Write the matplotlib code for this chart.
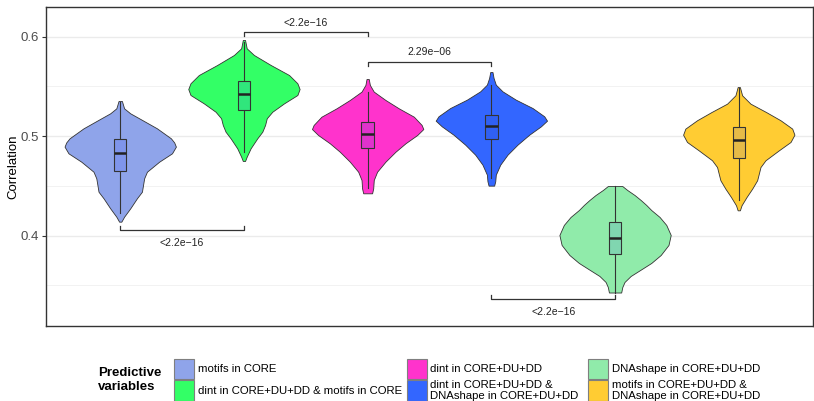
import matplotlib
matplotlib.use("Agg")
import matplotlib.pyplot as plt
from matplotlib.patches import Rectangle
import numpy as np

plt.rcParams['font.family'] = ['Liberation Sans', 'DejaVu Sans']

# ---------------- data ----------------
categories = [
    "motifs in CORE",
    "dint in CORE+DU+DD & motifs in CORE",
    "dint in CORE+DU+DD",
    "dint in CORE+DU+DD &\nDNAshape in CORE+DU+DD",
    "DNAshape in CORE+DU+DD",
    "motifs in CORE+DU+DD &\nDNAshape in CORE+DU+DD",
]
violin_colors = ["#8FA4EA", "#33FF66", "#FF33CC", "#3366FF", "#90EBAA", "#FFCC33"]
box_colors = ["#7F95EB", "#30E67C", "#E033CC", "#3060F2", "#80D6B0", "#E6BB48"]

# violin density profiles (correlation value, relative width)
v1_y = [0.5352, 0.5278, 0.5228, 0.5178, 0.5077, 0.4977, 0.4935, 0.4893, 0.4826, 0.4742,
        0.4641, 0.4575, 0.4508, 0.4440, 0.4374, 0.4273, 0.4189, 0.4139]
v1_w = [0.03, 0.07, 0.18, 0.34, 0.66, 0.91, 0.97, 1.0, 0.93, 0.70,
        0.48, 0.43, 0.41, 0.39, 0.30, 0.18, 0.07, 0.02]
v2_y = [0.5965, 0.5881, 0.5814, 0.5714, 0.5613, 0.5530, 0.5472, 0.5412, 0.5328, 0.5244,
        0.5178, 0.5111, 0.5043, 0.4977, 0.4876, 0.4792, 0.4749]
v2_w = [0.02, 0.05, 0.18, 0.48, 0.81, 0.96, 1.0, 0.96, 0.72, 0.51,
        0.41, 0.38, 0.33, 0.24, 0.12, 0.05, 0.02]
v3_y = [0.5573, 0.5513, 0.5446, 0.5362, 0.5278, 0.5194, 0.5111, 0.5070, 0.5010, 0.4927,
        0.4842, 0.4742, 0.4641, 0.4558, 0.4474, 0.4424]
v3_w = [0.02, 0.04, 0.11, 0.32, 0.56, 0.83, 0.97, 1.0, 0.89, 0.68,
        0.50, 0.32, 0.17, 0.11, 0.10, 0.08]
v4_y = [0.5643, 0.5583, 0.5516, 0.5449, 0.5365, 0.5281, 0.5198, 0.5154, 0.5097, 0.5013,
        0.4913, 0.4812, 0.4712, 0.4611, 0.4545, 0.4501]
v4_w = [0.02, 0.04, 0.08, 0.20, 0.44, 0.74, 0.95, 1.0, 0.89, 0.68,
        0.47, 0.29, 0.16, 0.08, 0.07, 0.05]
v5_y = [0.4497, 0.4457, 0.4407, 0.4357, 0.4307, 0.4256, 0.4186, 0.4106, 0.4005, 0.3905,
        0.3804, 0.3724, 0.3653, 0.3593, 0.3533, 0.3482, 0.3427]
v5_w = [0.13, 0.22, 0.35, 0.46, 0.56, 0.65, 0.80, 0.92, 1.0, 0.96,
        0.82, 0.65, 0.45, 0.28, 0.17, 0.13, 0.11]
v6_y = [0.5492, 0.5409, 0.5325, 0.5241, 0.5158, 0.5074, 0.5013, 0.4940, 0.4856, 0.4756,
        0.4688, 0.4621, 0.4555, 0.4470, 0.4387, 0.4304, 0.4253]
v6_w = [0.02, 0.06, 0.21, 0.49, 0.75, 0.96, 1.0, 0.93, 0.72, 0.48,
        0.39, 0.36, 0.33, 0.24, 0.14, 0.05, 0.02]
profiles_y = [v1_y, v2_y, v3_y, v4_y, v5_y, v6_y]
profiles_w = [v1_w, v2_w, v3_w, v4_w, v5_w, v6_w]

box_q1 = [0.4648, 0.5258, 0.4876, 0.4970, 0.3814, 0.4779]
box_med = [0.4832, 0.5425, 0.5017, 0.5104, 0.3978, 0.4957]
box_q3 = [0.4967, 0.5553, 0.5137, 0.5208, 0.4139, 0.5090]
whisk_lo = [0.4226, 0.4840, 0.4477, 0.4578, 0.3427, 0.4354]
whisk_hi = [0.5340, 0.5940, 0.5439, 0.5509, 0.4497, 0.5480]

# comparisons: (group a, group b, label, bracket level, side)
cmp_a = [2, 3, 1, 4]
cmp_b = [3, 4, 2, 5]
cmp_label = ["<2.2e\u221216", "2.29e\u221206", "<2.2e\u221216", "<2.2e\u221216"]
cmp_level = [0.6045, 0.5747, 0.4055, 0.3359]
cmp_side = ["above", "above", "below", "below"]

yticks = [0.4, 0.5, 0.6]
minor_ticks = [0.35, 0.45, 0.55]

# ---------------- figure ----------------
W, H = 814, 401
fig = plt.figure(figsize=(W / 100, H / 100), dpi=100)
ax = fig.add_axes([46 / W, 1 - 326 / H, 767 / W, 319 / H])

half = 0.45
for i in range(6):
    x = i + 1
    yy = np.array(profiles_y[i])
    ww = np.array(profiles_w[i]) * half
    ax.fill_betweenx(yy, x - ww, x + ww, facecolor=violin_colors[i],
                     edgecolor="#333333", linewidth=0.6, zorder=3)
    ax.plot([x, x], [whisk_lo[i], box_q1[i]], color="#333333", lw=0.8, zorder=4)
    ax.plot([x, x], [box_q3[i], whisk_hi[i]], color="#333333", lw=0.8, zorder=4)
    bw = 0.05
    ax.add_patch(Rectangle((x - bw, box_q1[i]), 2 * bw, box_q3[i] - box_q1[i],
                           facecolor=box_colors[i], edgecolor="#333333", lw=0.8, zorder=5))
    ax.plot([x - bw, x + bw], [box_med[i], box_med[i]], color="#222222", lw=1.8,
            solid_capstyle="butt", zorder=6)

tick_len = 0.004
for a, b, lab, lev, side in zip(cmp_a, cmp_b, cmp_label, cmp_level, cmp_side):
    d = -tick_len if side == "above" else tick_len
    ax.plot([a, a, b, b], [lev + d, lev, lev, lev + d], color="#333333", lw=0.9, zorder=4)
    off = 6.8 if side == "above" else -9.3
    ax.annotate(lab, xy=((a + b) / 2, lev), xytext=(0, off), textcoords="offset points",
                ha="center", va="center", fontsize=7.5, color="#222222")

ax.set_xlim(0.4, 6.6)
ax.set_ylim(0.30905, 0.62965)
ax.set_yticks(yticks)
ax.set_yticklabels([f"{t:.1f}" for t in yticks])
ax.set_yticks(minor_ticks, minor=True)
ax.set_xticks([])
ax.tick_params(axis="y", which="major", length=3, width=0.8, color="#333333",
               labelsize=9.5, labelcolor="#4D4D4D", pad=2)
ax.tick_params(axis="y", which="minor", length=0)
ax.grid(True, axis="y", which="major", color="#EBEBEB", lw=1.0, zorder=0)
ax.grid(True, axis="y", which="minor", color="#F2F2F2", lw=0.7, zorder=0)
ax.set_axisbelow(True)
for s in ax.spines.values():
    s.set_color("#333333")
    s.set_linewidth(1.0)
fig.text(13.5 / W, 1 - 167 / H, "Correlation", rotation=90, ha="center", va="center",
         fontsize=9.5, color="black")

# ---------------- legend ----------------
lax = fig.add_axes([0, 0, 1, 1])
lax.set_xlim(0, W)
lax.set_ylim(H, 0)
lax.axis("off")
lax.text(98, 380, "Predictive\nvariables", ha="left", va="center", fontsize=9.5,
         fontweight="bold", linespacing=1.3)
col_x = [174, 407, 588]
row_y = [358.5, 380]
for i, lab in enumerate(categories):
    c, r = divmod(i, 2)
    kx, ky = col_x[c], row_y[r]
    lax.add_patch(Rectangle((kx, ky), 20, 20.5, facecolor=violin_colors[i],
                            edgecolor="#7F7F7F", lw=0.8))
    lax.text(kx + 23.5, ky + 10.5, lab, ha="left", va="center", fontsize=8.2,
             linespacing=1.2)

fig.savefig("out.png", dpi=100)
